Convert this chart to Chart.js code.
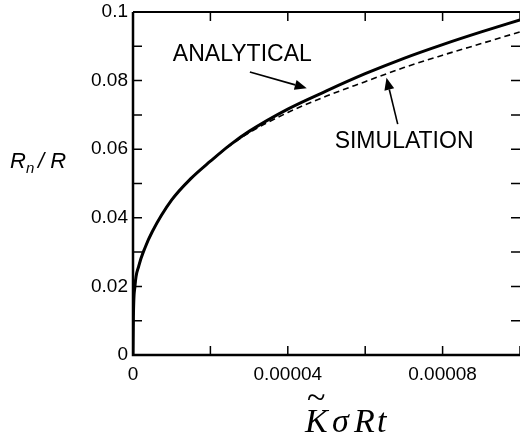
<!DOCTYPE html>
<html>
<head>
<meta charset="utf-8">
<script src="https://cdn.jsdelivr.net/npm/chart.js@4"></script>
<style>
  body { margin: 0; background: #fff; }
  canvas { display: block; }
</style>
</head>
<body>
<canvas id="chart" width="520" height="438"></canvas>
<script>
// dimensionless time (x) and relative neck radius (y)
const timeValues = [0, 1e-7, 5e-7, 1.5e-6, 3e-6, 5e-6, 1e-5, 1.5e-5, 2e-5, 2.5e-5, 3e-5, 4e-5, 5e-5, 6e-5, 7e-5, 8e-5, 9e-5, 1e-4];
const analytical = [0, 0.011, 0.020, 0.026, 0.031, 0.036, 0.0452, 0.0515, 0.0565, 0.0612, 0.0652, 0.0717, 0.0770, 0.0820, 0.0865, 0.0905, 0.0942, 0.0977];
const simulation = [0, 0.011, 0.020, 0.026, 0.031, 0.036, 0.0452, 0.0515, 0.0565, 0.0610, 0.0648, 0.0707, 0.0755, 0.0797, 0.0838, 0.0874, 0.0908, 0.0942];

const xLabelled = [0, 0.00004, 0.00008];
const yLabelled = [0, 0.02, 0.04, 0.06, 0.08, 0.1];

// labels with arrows, in data units: text anchor, arrow tail, arrow tip
const notes = [
    { text: 'ANALYTICAL', at: [1.03e-5, 0.0875], from: [3.02e-5, 0.0825], to: [4.49e-5, 0.0778] },
    { text: 'SIMULATION', at: [5.21e-5, 0.0621], from: [6.84e-5, 0.0673], to: [6.55e-5, 0.0808] }
];

const toPoints = ys => timeValues.map((x, i) => ({ x: x, y: ys[i] }));
const near = (v, list) => list.some(t => Math.abs(t - v) < 1e-9);

const frame = {
    id: 'frame',
    afterDraw(chart) {
        const ctx = chart.ctx;
        const a = chart.chartArea;
        const xs = chart.scales.x, ys = chart.scales.y;
        const tl = 9;
        ctx.save();
        ctx.strokeStyle = '#000';

        // axis box
        ctx.lineWidth = 2.5;
        ctx.beginPath();
        ctx.moveTo(a.left, a.top); ctx.lineTo(a.left, a.bottom); ctx.lineTo(a.right, a.bottom);
        ctx.stroke();
        ctx.lineWidth = 2;
        ctx.beginPath();
        ctx.moveTo(a.left, a.top); ctx.lineTo(a.right, a.top);
        ctx.stroke();

        // inward ticks
        ctx.lineWidth = 1.5;
        ctx.beginPath();
        xs.ticks.forEach(t => {
            const p = xs.getPixelForValue(t.value);
            ctx.moveTo(p, a.bottom); ctx.lineTo(p, a.bottom - tl);
            ctx.moveTo(p, a.top); ctx.lineTo(p, a.top + tl);
        });
        ys.ticks.forEach(t => {
            const p = ys.getPixelForValue(t.value);
            ctx.moveTo(a.left, p); ctx.lineTo(a.left + tl, p);
            ctx.moveTo(a.right, p); ctx.lineTo(a.right - tl, p);
        });
        ctx.stroke();

        // annotations
        ctx.fillStyle = '#000';
        ctx.font = '23px "Liberation Sans", Arial, sans-serif';
        ctx.textBaseline = 'middle';
        ctx.textAlign = 'left';
        notes.forEach(n => {
            ctx.fillText(n.text, xs.getPixelForValue(n.at[0]), ys.getPixelForValue(n.at[1]));
            const x0 = xs.getPixelForValue(n.from[0]), y0 = ys.getPixelForValue(n.from[1]);
            const x1 = xs.getPixelForValue(n.to[0]), y1 = ys.getPixelForValue(n.to[1]);
            const ang = Math.atan2(y1 - y0, x1 - x0);
            const hl = 12, hw = 5;
            const bx = x1 - hl * Math.cos(ang), by = y1 - hl * Math.sin(ang);
            ctx.lineWidth = 1.6;
            ctx.beginPath();
            ctx.moveTo(x0, y0); ctx.lineTo(bx, by);
            ctx.stroke();
            ctx.beginPath();
            ctx.moveTo(x1, y1);
            ctx.lineTo(bx + hw * Math.sin(ang), by - hw * Math.cos(ang));
            ctx.lineTo(bx - hw * Math.sin(ang), by + hw * Math.cos(ang));
            ctx.closePath();
            ctx.fill();
        });

        // y axis title: R_n / R
        ctx.textBaseline = 'alphabetic';
        ctx.font = 'italic 22px "Liberation Sans", Arial, sans-serif';
        ctx.fillText('R', 10, 168);
        ctx.font = 'italic 15px "Liberation Sans", Arial, sans-serif';
        ctx.fillText('n', 26, 173);
        ctx.font = 'italic 22px "Liberation Sans", Arial, sans-serif';
        ctx.fillText('/ R', 38, 168);

        // x axis title: K~ sigma R t
        ctx.font = 'italic 34px "Liberation Serif", "Times New Roman", serif';
        ctx.fillText('K', 305, 432);
        ctx.fillText('σ', 332, 432);
        ctx.fillText('R', 354, 432);
        ctx.fillText('t', 377, 432);
        ctx.font = '34px "Liberation Serif", "Times New Roman", serif';
        ctx.fillText('~', 307, 408);
        ctx.restore();
    }
};

new Chart(document.getElementById('chart'), {
    type: 'line',
    data: {
        datasets: [{
            label: 'Analytical',
            data: toPoints(analytical),
            borderColor: '#000',
            borderWidth: 3,
            pointRadius: 0,
            cubicInterpolationMode: 'monotone',
            fill: false
        }, {
            label: 'Simulation',
            data: toPoints(simulation),
            borderColor: '#000',
            borderWidth: 1.6,
            borderDash: [6, 4],
            pointRadius: 0,
            cubicInterpolationMode: 'monotone',
            fill: false
        }]
    },
    options: {
        responsive: false,
        animation: false,
        layout: { padding: { top: 12, right: 0, bottom: 0, left: 0 } },
        plugins: {
            legend: { display: false },
            tooltip: { enabled: false }
        },
        scales: {
            x: {
                type: 'linear',
                min: 0, max: 0.0001,
                grid: { display: false, drawTicks: true, tickLength: 8 },
                border: { display: false },
                afterFit: s => { s.height = 83; },
                ticks: {
                    stepSize: 0.00002,
                    padding: 0,
                    maxRotation: 0,
                    autoSkip: false,
                    color: '#000',
                    font: { family: '"Liberation Sans", Arial, sans-serif', size: 19 },
                    callback: v => near(v, xLabelled) ? (v === 0 ? '0' : v.toFixed(5)) : ''
                }
            },
            y: {
                min: 0, max: 0.1,
                grid: { display: false, drawTicks: true, tickLength: 5 },
                border: { display: false },
                afterFit: s => { s.width = 133; },
                ticks: {
                    stepSize: 0.01,
                    padding: 0,
                    autoSkip: false,
                    color: '#000',
                    font: { family: '"Liberation Sans", Arial, sans-serif', size: 19, lineHeight: 1 },
                    callback: v => near(v, yLabelled) ? String(Number(v.toFixed(2))) : ''
                }
            }
        }
    },
    plugins: [frame]
});
</script>
</body>
</html>
